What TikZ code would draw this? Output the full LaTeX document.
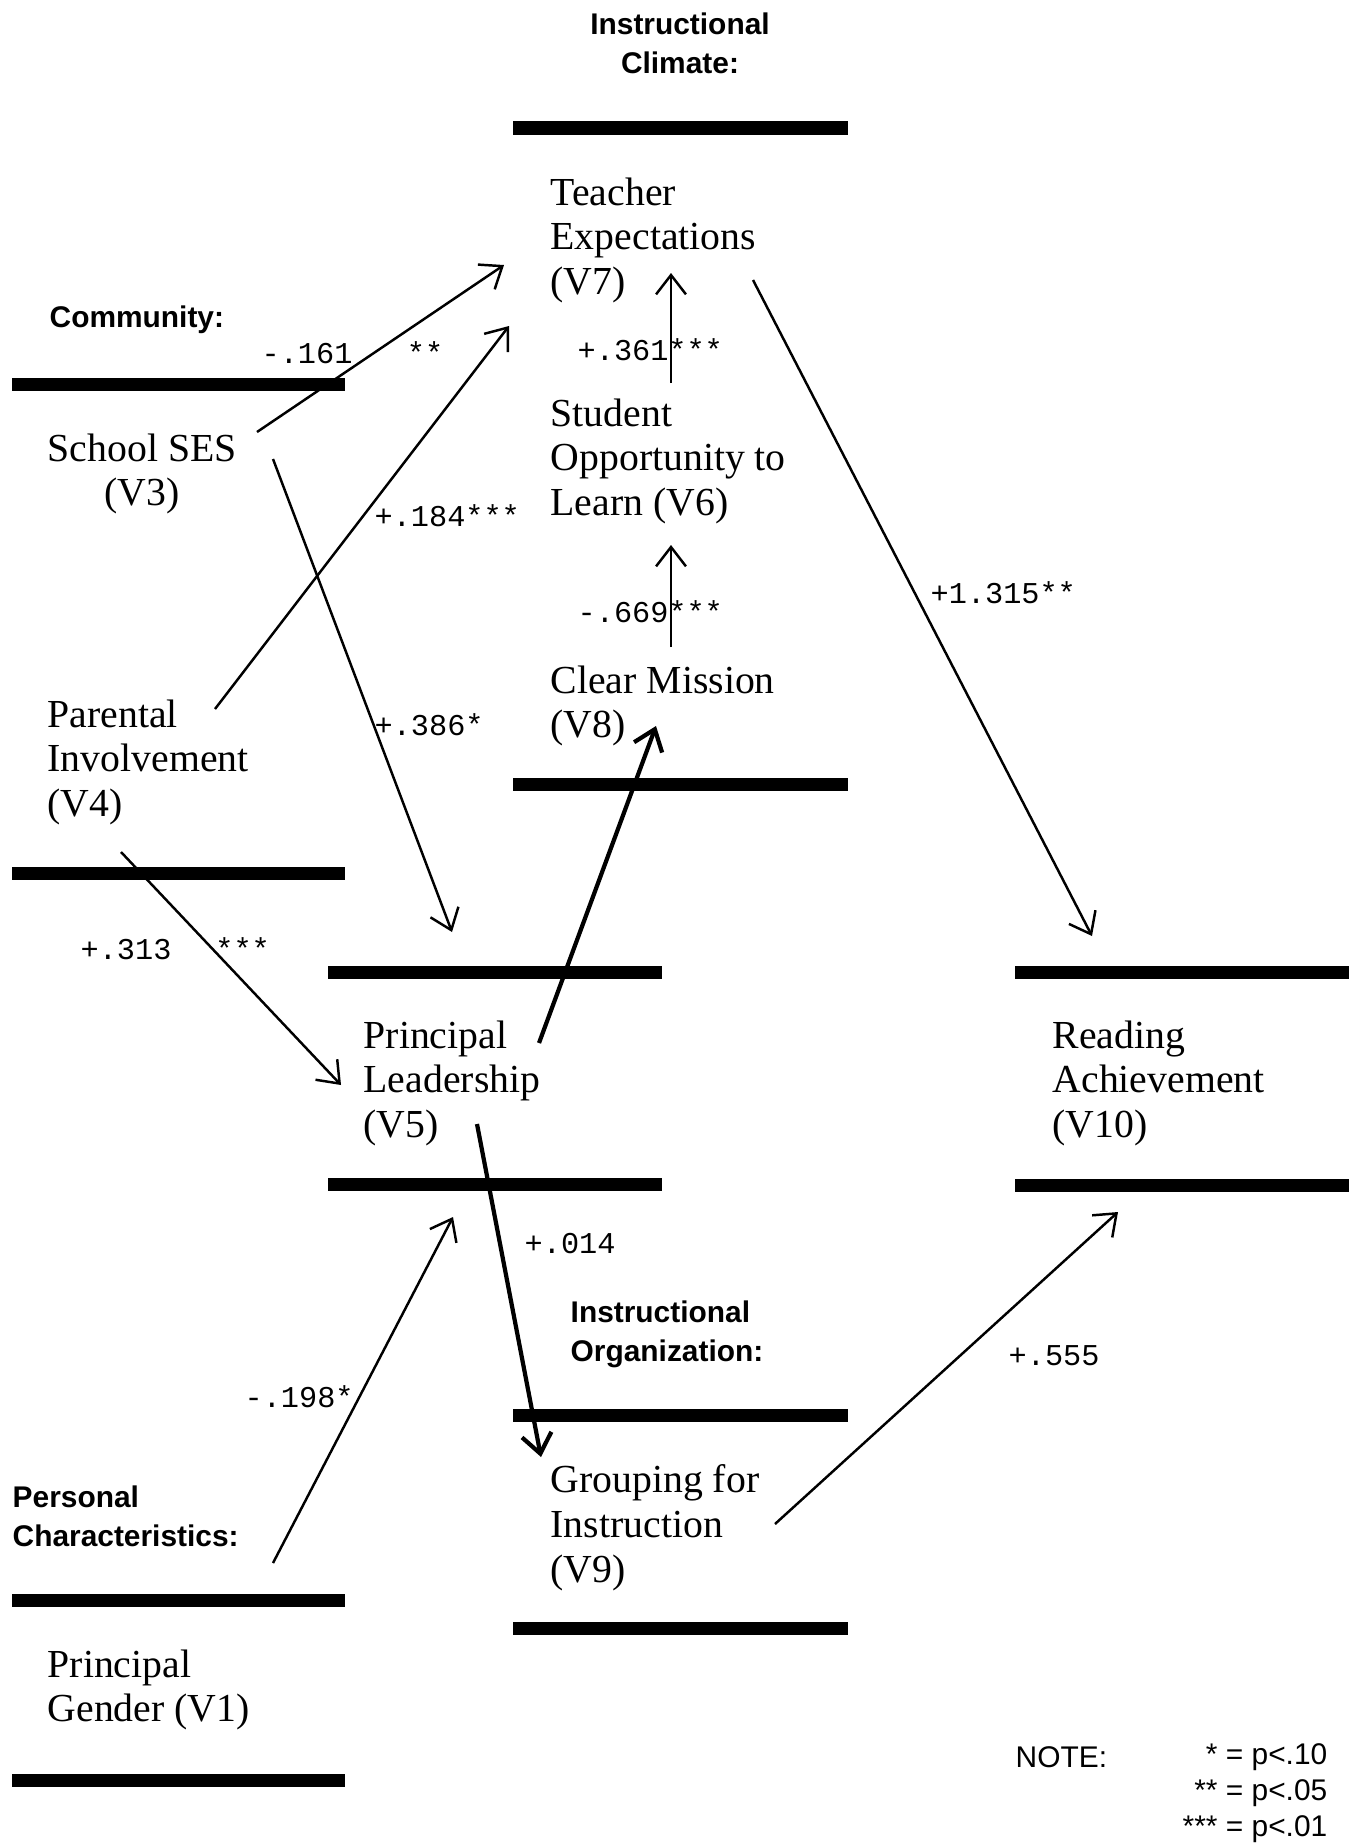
\documentclass[tikz,border=0pt]{standalone}
\usepackage{fontspec}
\setmainfont{Liberation Serif}
\newfontfamily\headfont{Liberation Sans}
\newfontfamily\coeffont{Liberation Mono}
\usetikzlibrary{arrows.meta}

\tikzset{
  bar/.style={line width=3.7pt},
  var/.style={anchor=north west, inner sep=0pt, align=left, font=\fontsize{11.3}{12.7}\selectfont},
  head/.style={inner sep=0pt, font=\headfont\bfseries\fontsize{8.5}{11}\selectfont},
  coef/.style={anchor=west, inner sep=0pt, font=\coeffont\fontsize{8.6}{10}\selectfont},
  path/.style={line width=0.7pt, -{Straight Barb[length=5.5pt,width=8.5pt]}},
  heavy/.style={path, line width=1.2pt},
}

\begin{document}
\begin{tikzpicture}[x=0.01cm, y=-0.01cm]
\useasboundingbox (0,0) rectangle (1349,1845);

% bars between the blocks
\foreach \xa/\xb/\y in {513/848/128, 12/345/384, 12/345/873, 513/848/784,
  328/662/972, 328/662/1184, 1015/1349/972, 1015/1349/1185,
  513/848/1415, 513/848/1628, 12/345/1600, 12/345/1780}{
	\draw[bar] (\xa,\y) -- (\xb,\y);
}

% group headings
\node[head, anchor=north, align=center] (climate) at (680,12) {Instructional\\Climate:};
\node[head, anchor=west] (community) at (49,320) {Community:};
\node[head, anchor=north west, align=left] (organization) at (570,1300) {Instructional\\Organization:};
\node[head, anchor=north west, align=left] (personal) at (12,1485) {Personal\\Characteristics:};

% variables
\node[var] (te) at (550,177) {Teacher\\Expectations\\(V7)};
\node[var] (sol) at (550,398) {Student\\Opportunity to\\Learn (V6)};
\node[var] (cm) at (550,665) {Clear Mission\\(V8)};
\node[var, align=center] (ses) at (47,433) {School SES\\(V3)};
\node[var] (pi) at (47,699) {Parental\\Involvement\\(V4)};
\node[var] (pl) at (363,1020) {Principal\\Leadership\\(V5)};
\node[var] (ra) at (1052,1020) {Reading\\Achievement\\(V10)};
\node[var] (gi) at (550,1464) {Grouping for\\Instruction\\(V9)};
\node[var] (pg) at (47,1649) {Principal\\Gender (V1)};

% arrow ends
\coordinate (ses1) at (257,432);   \coordinate (te1) at (504,265);
\coordinate (pi1) at (215,709);    \coordinate (te2) at (509,326);
\coordinate (ses2) at (273,459);   \coordinate (pl1) at (452,932);
\coordinate (sol1) at (671,383);   \coordinate (te3) at (671,273);
\coordinate (cm1) at (671,647);    \coordinate (sol2) at (671,545);
\coordinate (pl2) at (539,1043);   \coordinate (cm2) at (656,726);
\coordinate (pi2) at (121,852);    \coordinate (pl3) at (341,1085);
\coordinate (te4) at (753,280);    \coordinate (ra1) at (1092,936);
\coordinate (pl4) at (477,1124);   \coordinate (gi1) at (541,1457);
\coordinate (pg1) at (273,1563);   \coordinate (pl5) at (453,1217);
\coordinate (gi2) at (775,1524);   \coordinate (ra2) at (1118,1212);

\draw[path] (ses1) -- (te1);
\draw[path] (pi1) -- (te2);
\draw[path] (ses2) -- (pl1);
\draw[path] (sol1) -- (te3);
\draw[path] (cm1) -- (sol2);
\draw[heavy] (pl2) -- (cm2);
\draw[path] (pi2) -- (pl3);
\draw[path] (te4) -- (ra1);
\draw[heavy] (pl4) -- (gi1);
\draw[path] (pg1) -- (pl5);
\draw[path] (gi2) -- (ra2);

% path coefficients
\node[coef] (c161) at (261,353) {-.161\ \ \ **};
\node[coef] (c184) at (374,516) {+.184***};
\node[coef] (c361) at (577,350) {+.361***};
\node[coef] (c1315) at (930,593) {+1.315**};
\node[coef] (c669) at (577,612) {-.669***};
\node[coef] (c386) at (374,725) {+.386*};
\node[coef] (c313) at (80,949) {+.313\hspace{0.44cm}***};
\node[coef] (c014) at (524,1244) {+.014};
\node[coef] (c555) at (1008,1356) {+.555};
\node[coef] (c198) at (244,1397) {-.198*};

% significance note
\node[head, anchor=west, font=\headfont\fontsize{8.5}{10}\selectfont] (note) at (1015,1757) {NOTE:};
\node[head, anchor=north east, align=right, font=\headfont\fontsize{8.5}{10.2}\selectfont] (levels) at (1328,1743)
  {* = p<.10\\** = p<.05\\*** = p<.01};
\end{tikzpicture}
\end{document}
